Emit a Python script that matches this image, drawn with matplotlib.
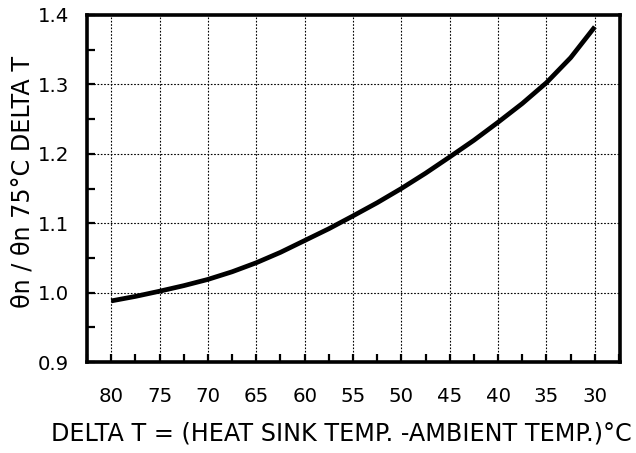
import matplotlib.pyplot as plt
from matplotlib.ticker import MultipleLocator

plt.rcParams['font.family'] = ['DejaVu Sans']

# temperature difference (deg C) and relative output, read every 2.5 deg
delta_t = [80, 77.5, 75, 72.5, 70, 67.5, 65, 62.5, 60, 57.5, 55,
           52.5, 50, 47.5, 45, 42.5, 40, 37.5, 35, 32.5, 30]
ratio = [0.988, 0.9945, 1.002, 1.010, 1.019, 1.030, 1.043, 1.058, 1.075, 1.092, 1.1105,
         1.1295, 1.150, 1.172, 1.1955, 1.2195, 1.2455, 1.2725, 1.3025, 1.3385, 1.383]

x_ticks = [80, 75, 70, 65, 60, 55, 50, 45, 40, 35, 30]
y_ticks = [0.9, 1.0, 1.1, 1.2, 1.3, 1.4]
y_labels = ['0.9', '1.0', '1.1', '1.2', '1.3', '1.4']

fig = plt.figure(figsize=(6.36, 4.53), dpi=100)
ax = fig.add_axes([87 / 636, 1 - 362 / 453, (620 - 87) / 636, (362 - 15) / 453])

ax.plot(delta_t, ratio, color='black', linewidth=3.4,
        solid_capstyle='butt', solid_joinstyle='round')

ax.set_xlim(82.5, 27.4)
ax.set_ylim(0.9, 1.4)
ax.set_xticks(x_ticks)
ax.set_yticks(y_ticks)
ax.set_yticklabels(y_labels)
ax.xaxis.set_minor_locator(MultipleLocator(2.5))
ax.yaxis.set_minor_locator(MultipleLocator(0.05))

ax.grid(True, which='major', color='black', linestyle=(0, (1.5, 1.5)), linewidth=0.8)
ax.tick_params(axis='both', which='both', direction='in', length=6, width=1.6,
               labelsize=14.2, top=False, right=False)
ax.tick_params(axis='x', pad=18)
ax.tick_params(axis='y', pad=13)

for s in ax.spines.values():
    s.set_linewidth(2.6)

ax.set_xlabel('DELTA T = (HEAT SINK TEMP. -AMBIENT TEMP.)\u00b0C', fontsize=17.2)
ax.set_ylabel('\u03b8n / \u03b8n 75\u00b0C DELTA T', fontsize=17.2)
ax.xaxis.set_label_coords(0.478, -0.172)
ax.yaxis.set_label_coords(-0.098, 0.52)

fig.savefig('out.png', dpi=100)
